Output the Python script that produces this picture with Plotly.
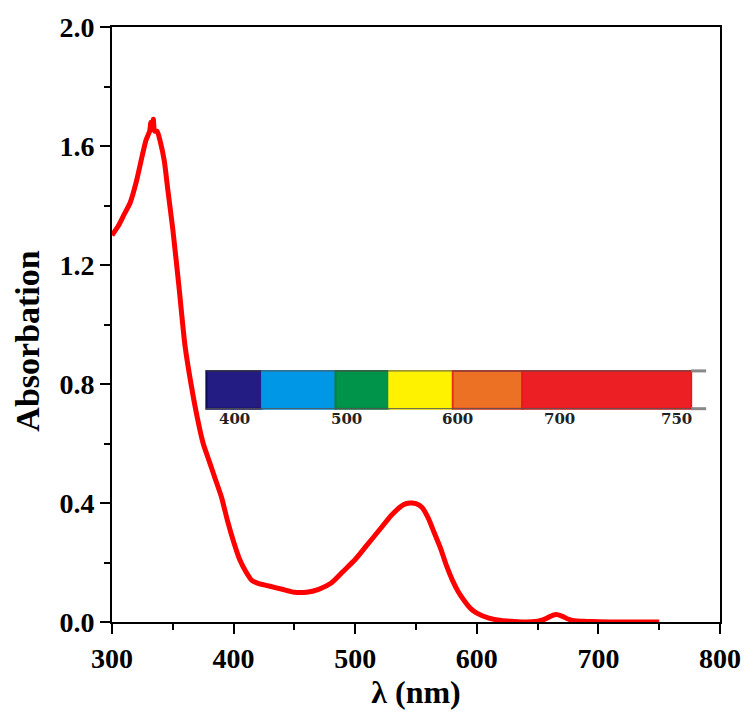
import plotly.graph_objects as go

# Spectrum data
wavelength = [300, 305, 310, 315, 320, 325, 328, 330, 331, 332, 333, 334, 335, 337, 340, 343, 346, 350, 355,
              360, 365, 370, 375, 380, 385, 390, 395, 400, 405, 410, 415, 420, 425, 430, 440, 450, 460, 470,
              480, 490, 500, 510, 520, 530, 540, 545, 550, 555, 560, 565, 570, 575, 580, 585, 590, 595, 600,
              610, 620, 630, 640, 650, 655, 660, 665, 670, 675, 680, 690, 700, 720, 750]
absorbance = [1.30, 1.33, 1.37, 1.41, 1.48, 1.57, 1.62, 1.64, 1.65, 1.68, 1.66, 1.69, 1.65, 1.65, 1.61, 1.55, 1.45, 1.32, 1.13,
              0.93, 0.80, 0.69, 0.60, 0.54, 0.48, 0.42, 0.34, 0.27, 0.21, 0.17, 0.14, 0.13, 0.125, 0.12, 0.11, 0.10, 0.10, 0.11,
              0.13, 0.17, 0.21, 0.26, 0.31, 0.36, 0.395, 0.40, 0.398, 0.385, 0.35, 0.30, 0.25, 0.19, 0.14, 0.10, 0.07, 0.045, 0.03,
              0.013, 0.005, 0.002, 0.0, 0.003, 0.008, 0.018, 0.025, 0.02, 0.01, 0.004, 0.002, 0.001, 0.0, 0.0]

x_ticks = [300, 400, 500, 600, 700, 800]
y_ticks = [0.0, 0.4, 0.8, 1.2, 1.6, 2.0]
y_tick_labels = ["0.0", "0.4", "0.8", "1.2", "1.6", "2.0"]

# Inset colour scale (visible spectrum bar)
band_edges = [377.6, 423.4, 483.8, 528.0, 580.2, 637.4, 776.3]
band_colors = ["#231c82", "#0097e6", "#00944a", "#fff200", "#ec7125", "#ec2024"]
band_borders = ["#0d0d55", "#0097e6", "#0b7a3a", "#fff200", "#e8301d", "#e31b1b"]
band_labels = ["400", "500", "600", "700", "750"]
band_label_x = [400.5, 492.8, 584.3, 667.6, 764.0]

FONT = "Liberation Serif"

fig = go.Figure()
fig.add_trace(go.Scatter(x=wavelength, y=absorbance, mode="lines",
                         line=dict(color="#ff0000", width=5, shape="spline", smoothing=0.6),
                         showlegend=False))

bar_y0, bar_y1 = 0.717, 0.844
shapes = []
for i, c in enumerate(band_colors):
    shapes.append(dict(type="rect", xref="x", yref="y", x0=band_edges[i], x1=band_edges[i + 1],
                       y0=bar_y0, y1=bar_y1, fillcolor=c, line=dict(color=band_borders[i], width=2), layer="above"))
# grey end stubs
for yy in (bar_y0, bar_y1):
    shapes.append(dict(type="line", xref="x", yref="y", x0=band_edges[-1], x1=788.6, y0=yy, y1=yy,
                       line=dict(color="#888888", width=3), layer="above"))
    shapes.append(dict(type="line", xref="x", yref="y", x0=band_edges[0], x1=band_edges[-1], y0=yy, y1=yy,
                       line=dict(color="#555555", width=1), layer="above"))

annotations = [dict(x=lx, y=0.683, xref="x", yref="y", text=lt, showarrow=False,
                    font=dict(family="DejaVu Serif", size=15, color="#222222", weight="bold"))
               for lx, lt in zip(band_label_x, band_labels)]
annotations.append(dict(x=-0.139, y=0.472, xref="paper", yref="paper", text="Absorbation", textangle=-90,
                        showarrow=False, xanchor="center", yanchor="middle",
                        font=dict(family=FONT, size=34, color="black", weight="bold")))

axis_common = dict(showline=True, linecolor="black", linewidth=2, mirror=True, ticks="outside",
                   ticklen=10, tickwidth=2, tickcolor="black", showgrid=False, zeroline=False,
                   tickfont=dict(family=FONT, size=28, color="black", weight="bold"))

fig.update_layout(
    width=753, height=715,
    margin=dict(l=112, r=28, t=25, b=93),
    paper_bgcolor="white", plot_bgcolor="white",
    shapes=shapes, annotations=annotations,
    xaxis=dict(range=[300, 800], tickvals=x_ticks,
               minor=dict(ticks="outside", dtick=50, ticklen=6, tickwidth=2, tickcolor="black"),
               title=dict(text="λ (nm)", font=dict(family=FONT, size=32, color="black", weight="bold"), standoff=2),
               **axis_common),
    yaxis=dict(range=[0, 2.0], tickvals=y_ticks, ticktext=y_tick_labels,
               minor=dict(ticks="outside", dtick=0.2, ticklen=6, tickwidth=2, tickcolor="black"),
               **axis_common),
)

fig.write_html("out.html")
